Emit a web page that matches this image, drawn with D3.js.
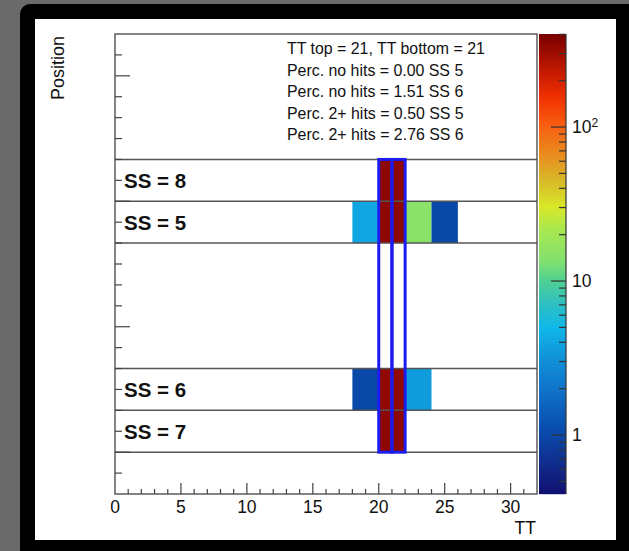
<!DOCTYPE html>
<html><head><meta charset="utf-8">
<script src="https://cdn.jsdelivr.net/npm/d3@7"></script>
<style>html,body{margin:0;padding:0;background:#6a6a6a;}svg{display:block;}</style>
</head><body>
<script>
// ---- data ----
const ssNames = ["SS = 8", "SS = 5", "SS = 6", "SS = 7"];
const ssLow = [14, 12, 4, 2];           // lower edge (Position) of each SS band, band height 2
const cellSS = ["SS = 8","SS = 8","SS = 5","SS = 5","SS = 5","SS = 5","SS = 5","SS = 6","SS = 6","SS = 6","SS = 6","SS = 7","SS = 7"];
const cellTT0 = [20, 21, 18, 20, 21, 22, 24, 18, 20, 21, 22, 20, 21];
const cellTT1 = [21, 22, 20, 21, 22, 24, 26, 20, 21, 22, 24, 21, 22];
const cellCount = [340, 340, 4, 340, 340, 15, 1, 1, 330, 330, 3.5, 340, 340];
const ttBoxes = [[20, 21], [21, 22]];
const boxPos = [2, 16];
const infoLines = ["TT top = 21, TT bottom = 21", "Perc. no hits = 0.00 SS 5", "Perc. no hits = 1.51 SS 6", "Perc. 2+ hits = 0.50 SS 5", "Perc. 2+ hits = 2.76 SS 6"];
const xTicks = [0, 5, 10, 15, 20, 25, 30];
const zTicks = [1, 10, 100];
const zTickLabels = ["1", "10", "10|2"];
const xDomain = [0, 32], yDomain = [0, 22], zDomain = [0.414, 402];
const posMajor = [2, 8, 14, 20];

// ---- styles ----
const palette = ["#101070","#103090","#0850b0","#1070c8","#1090d8","#10b8e8","#30c0c0","#50d090","#80e070","#a8e850","#d8e828","#d8b828","#e89020","#f85a10","#f03000","#c01800","#780000"];
const palT = [0,0.074,0.146,0.22,0.291,0.363,0.415,0.465,0.504,0.574,0.624,0.683,0.733,0.807,0.863,0.922,1];
const font = "'Liberation Sans', Arial, Helvetica, sans-serif";

const W = 629, H = 551;
const svg = d3.select("body").append("svg").attr("width", W).attr("height", H);
svg.append("rect").attr("width", W).attr("height", H).attr("fill", "#6a6a6a");
svg.append("rect").attr("x", 20).attr("y", 4).attr("width", W - 20 + 12).attr("height", H - 4 + 12).attr("rx", 10).attr("fill", "#000");
svg.append("rect").attr("x", 35).attr("y", 19).attr("width", 581).attr("height", 521).attr("fill", "#fff");

const x = d3.scaleLinear().domain(xDomain).range([115, 537]);
const y = d3.scaleLinear().domain(yDomain).range([494, 34]);
const zy = d3.scaleLog().domain(zDomain).range([494, 34]);
const zt = d3.scaleLog().domain(zDomain).range([0, 1]);
const ramp = d3.scaleLinear().domain(palT).range(palette).interpolate(d3.interpolateRgb).clamp(true);
const color = v => ramp(zt(v));

// cells
const cells = cellCount.map((c, i) => ({ss: cellSS[i], x0: cellTT0[i], x1: cellTT1[i], c}));
const bandOf = name => ssLow[ssNames.indexOf(name)];
svg.append("g").selectAll("rect").data(cells).join("rect")
  .attr("x", d => x(d.x0)).attr("width", d => x(d.x1) - x(d.x0))
  .attr("y", d => y(bandOf(d.ss) + 2)).attr("height", d => y(bandOf(d.ss)) - y(bandOf(d.ss) + 2))
  .attr("fill", d => color(d.c));

// band lines
const edges = Array.from(new Set(ssLow.flatMap(l => [l, l + 2])));
svg.append("g").selectAll("line").data(edges).join("line")
  .attr("x1", x(xDomain[0])).attr("x2", x(xDomain[1]))
  .attr("y1", d => y(d)).attr("y2", d => y(d))
  .attr("stroke", "#555").attr("stroke-width", 1.5);

// blue boxes
svg.append("g").selectAll("rect").data(ttBoxes).join("rect")
  .attr("x", d => x(d[0])).attr("width", d => x(d[1]) - x(d[0]))
  .attr("y", y(boxPos[1])).attr("height", y(boxPos[0]) - y(boxPos[1]))
  .attr("fill", "none").attr("stroke", "#1c1cf0").attr("stroke-width", 3);

// frame
svg.append("rect").attr("x", x(xDomain[0])).attr("y", y(yDomain[1]))
  .attr("width", x(xDomain[1]) - x(xDomain[0])).attr("height", y(yDomain[0]) - y(yDomain[1]))
  .attr("fill", "none").attr("stroke", "#444").attr("stroke-width", 1.3);

// x axis ticks
const xg = svg.append("g");
d3.range(1, 32).forEach(v => {
  const major = v % 5 === 0;
  xg.append("line").attr("x1", x(v)).attr("x2", x(v)).attr("y1", 494).attr("y2", 494 - (major ? 11 : 5))
    .attr("stroke", "#444").attr("stroke-width", 1.2);
});
xg.selectAll("text").data(xTicks).join("text")
  .attr("x", d => x(d)).attr("y", 513).attr("text-anchor", "middle")
  .attr("font-family", font).attr("font-size", 17.5).attr("fill", "#111").text(d => d);
svg.append("text").attr("x", 536).attr("y", 534).attr("text-anchor", "end")
  .attr("font-family", font).attr("font-size", 17.5).attr("fill", "#111").text("TT");

// y axis ticks
const yg = svg.append("g");
d3.range(1, 22).forEach(v => {
  const major = posMajor.includes(v);
  yg.append("line").attr("x1", 115).attr("x2", 115 + (major ? 15 : 7)).attr("y1", y(v)).attr("y2", y(v))
    .attr("stroke", "#444").attr("stroke-width", 1.2);
});
yg.selectAll("text").data(ssNames).join("text")
  .attr("x", 124).attr("y", (d, i) => y(ssLow[i] + 1)).attr("dy", "0.36em")
  .attr("font-family", font).attr("font-size", 20.5).attr("font-weight", "bold").attr("fill", "#111").text(d => d);
svg.append("text").attr("transform", "translate(64,36) rotate(-90)").attr("text-anchor", "end")
  .attr("font-family", font).attr("font-size", 18).attr("fill", "#111").text("Position");

// info text
svg.append("g").selectAll("text").data(infoLines).join("text")
  .attr("x", 287).attr("y", (d, i) => 54 + i * 21.5)
  .attr("font-family", font).attr("font-size", 15.9).attr("fill", "#111").text(d => d);

// colour bar
const cbX0 = 539, cbX1 = 566;
const cb = svg.append("g");
d3.range(34, 494, 1).forEach(py => {
  cb.append("rect").attr("x", cbX0).attr("y", py).attr("width", cbX1 - cbX0).attr("height", 1.2)
    .attr("fill", color(zy.invert(py + 0.5)));
});
cb.append("line").attr("x1", cbX1).attr("x2", cbX1).attr("y1", 34).attr("y2", 494).attr("stroke", "#333").attr("stroke-width", 1.2);
const zMinor = [];
[0.1, 1, 10, 100].forEach(dec => d3.range(1, 10).forEach(k => {
  const v = dec * k; if (v >= zDomain[0] && v <= zDomain[1]) zMinor.push(v);
}));
cb.selectAll("line.t").data(zMinor).join("line").attr("class", "t")
  .attr("x1", d => cbX1 - (zTicks.includes(Math.round(d * 1000) / 1000) ? 15 : 7)).attr("x2", cbX1)
  .attr("y1", d => zy(d)).attr("y2", d => zy(d)).attr("stroke", "#333").attr("stroke-width", 1.2);
const zl = cb.selectAll("text").data(zTicks).join("text")
  .attr("x", 572).attr("y", d => zy(d)).attr("dy", "0.36em")
  .attr("font-family", font).attr("font-size", 17.5).attr("fill", "#111");
zl.each(function(d, i) {
  const parts = zTickLabels[i].split("|");
  d3.select(this).append("tspan").text(parts[0]);
  if (parts[1]) d3.select(this).append("tspan").attr("dy", "-0.55em").attr("font-size", 12).text(parts[1]);
});
</script>
</body></html>
